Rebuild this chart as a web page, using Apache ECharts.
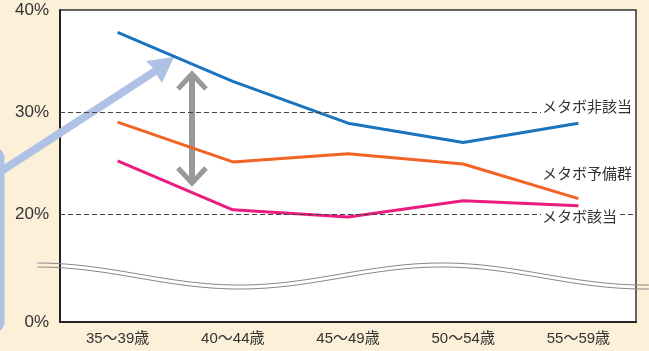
<!DOCTYPE html>
<html>
<head>
<meta charset="utf-8">
<script src="https://cdn.jsdelivr.net/npm/echarts@6/dist/echarts.min.js"></script>
<style>
  html, body { margin: 0; padding: 0; background: #fdf0d9; }
  #chart { width: 649px; height: 351px; }
</style>
</head>
<body>
<div id="chart"></div>
<script>
// 年齢区分
const ageGroups = ['35〜39歳', '40〜44歳', '45〜49歳', '50〜54歳', '55〜59歳'];
// 割合(%)
const nonMetabo = [37.8, 33.0, 28.9, 27.0, 28.9];
const metaboReserve = [29.0, 25.1, 25.9, 24.9, 21.5];
const metabo = [25.2, 20.4, 19.7, 21.3, 20.8];
// 目盛り (下端は省略表示で 0%)
const yTicks = [9.4, 20, 30, 40];
const seriesNames = ['メタボ非該当', 'メタボ予備群', 'メタボ該当'];

const FONT = "'Liberation Sans', 'Noto Sans CJK JP', sans-serif";
const chart = echarts.init(document.getElementById('chart'));

// 省略線(波線)
function wave(offset) {
  const pts = [];
  for (let x = 37; x <= 649; x += 4) {
    pts.push([x, 276 - 11 * Math.cos(2 * Math.PI * (x - 37) / 405) + offset]);
  }
  return pts;
}

function lineSeries(name, data, color, extra) {
  return Object.assign({
    type: 'line',
    name: name,
    data: data,
    symbol: 'none',
    lineStyle: { color: color, width: 3 },
    z: 3
  }, extra || {});
}

chart.setOption({
  animation: false,
  backgroundColor: '#fdf0d9',
  grid: {
    left: 60, right: 13, top: 10, bottom: 29,
    show: true,
    backgroundColor: '#fff',
    borderColor: '#333',
    borderWidth: 1.5
  },
  xAxis: {
    type: 'category',
    data: ageGroups,
    axisLine: { lineStyle: { color: '#222', width: 2 } },
    axisTick: { inside: true, length: 9, lineStyle: { color: '#555', width: 1.5 } },
    axisLabel: { color: '#333', fontSize: 15, fontFamily: FONT, margin: 9 }
  },
  yAxis: {
    type: 'value',
    min: 9.4,
    max: 40,
    axisLine: { show: true, lineStyle: { color: '#222', width: 2 } },
    axisTick: { show: false },
    splitLine: { show: false },
    axisLabel: {
      customValues: yTicks,
      color: '#333',
      fontSize: 17,
      fontFamily: FONT,
      margin: 11,
      formatter: v => (v < 10 ? '0%' : Math.round(v) + '%')
    }
  },
  series: [
    lineSeries(seriesNames[0], nonMetabo, '#1a74bd', {
      markLine: {
        silent: true,
        symbol: 'none',
        label: { show: false },
        lineStyle: { color: '#444', type: [5, 3], width: 1 },
        data: [{ yAxis: 30 }, { yAxis: 20 }]
      }
    }),
    lineSeries(seriesNames[1], metaboReserve, '#f26424'),
    lineSeries(seriesNames[2], metabo, '#ea1d7f')
  ],
  graphic: [
    { type: 'polyline', shape: { points: wave(-2), smooth: 0.3 }, style: { stroke: '#888', lineWidth: 1, fill: null }, z: 1 },
    { type: 'polyline', shape: { points: wave(2), smooth: 0.3 }, style: { stroke: '#888', lineWidth: 1, fill: null }, z: 1 },
    // 水色の矢印
    { type: 'rect', shape: { x: -30, y: 150, width: 32, height: 180, r: 8 }, style: { stroke: '#afc2e5', lineWidth: 5, fill: null }, z: 1 },
    { type: 'line', shape: { x1: 0, y1: 172, x2: 163, y2: 66 }, style: { stroke: '#afc2e5', lineWidth: 8 }, z: 1 },
    { type: 'polygon', shape: { points: [[174, 57], [146, 61], [153, 68], [156, 74], [162, 83]] }, style: { fill: '#afc2e5' }, z: 1 },
    // 灰色の両矢印
    { type: 'line', shape: { x1: 192, y1: 76, x2: 192, y2: 182 }, style: { stroke: '#98999b', lineWidth: 6 }, z: 1 },
    { type: 'polyline', shape: { points: [[178, 89], [192, 74], [206, 89]] }, style: { stroke: '#98999b', lineWidth: 5, fill: null }, z: 1 },
    { type: 'polyline', shape: { points: [[178, 168], [192, 183], [206, 168]] }, style: { stroke: '#98999b', lineWidth: 5, fill: null }, z: 1 },
    // 系列名
    { type: 'text', x: 541, y: 108, z: 100, style: { text: seriesNames[0], fill: '#333', font: '15px ' + FONT, verticalAlign: 'middle', backgroundColor: '#fff', padding: [0, 1] } },
    { type: 'text', x: 541, y: 175, z: 100, style: { text: seriesNames[1], fill: '#333', font: '15px ' + FONT, verticalAlign: 'middle', backgroundColor: '#fff', padding: [0, 1] } },
    { type: 'text', x: 541, y: 218, z: 100, style: { text: seriesNames[2], fill: '#333', font: '15px ' + FONT, verticalAlign: 'middle', backgroundColor: '#fff', padding: [0, 1] } }
  ]
});
</script>
</body>
</html>
